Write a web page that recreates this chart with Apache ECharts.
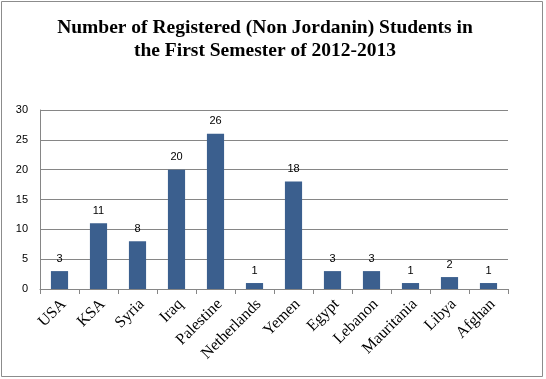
<!DOCTYPE html>
<html>
<head>
<meta charset="utf-8">
<script src="https://cdn.jsdelivr.net/npm/echarts@6/dist/echarts.min.js"></script>
<style>
html,body{margin:0;padding:0;background:#fff;}
#c{width:546px;height:379px;}
</style>
</head>
<body>
<div id="c"></div>
<script>
const categories = ['USA','KSA','Syria','Iraq','Palestine','Netherlands','Yemen','Egypt','Lebanon','Mauritania','Libya','Afghan'];
const students = [3, 11, 8, 20, 26, 1, 18, 3, 3, 1, 2, 1];
const yTicks = { min: 0, max: 30, interval: 5 };
const titleText = 'Number of Registered (Non Jordanin) Students in\nthe First Semester of 2012-2013';

const chart = echarts.init(document.getElementById('c'), null, { renderer: 'canvas' });
chart.setOption({
  backgroundColor: '#ffffff',
  animation: false,
  title: {
    text: titleText,
    left: 260,
    top: 11,
    textAlign: 'center',
    textStyle: {
      fontFamily: 'Liberation Serif',
      fontWeight: 'bold',
      fontSize: 19.5,
      lineHeight: 23,
      color: '#000'
    }
  },
  graphic: [{
    type: 'rect',
    shape: { x: 1.5, y: 1.5, width: 541, height: 375 },
    style: { fill: null, stroke: '#8c8c8c', lineWidth: 1 },
    silent: true
  }],
  grid: { left: 40, top: 110, right: 38, bottom: 90, containLabel: false },
  xAxis: {
    type: 'category',
    data: categories,
    axisLine: { show: true, lineStyle: { color: '#868686', width: 1 } },
    axisTick: { show: true, alignWithLabel: false, interval: 0, length: 5, lineStyle: { color: '#868686' } },
    axisLabel: {
      interval: 0,
      rotate: 45,
      margin: 17,
      padding: [0, -6, 0, 0],
      fontFamily: 'Liberation Serif',
      fontSize: 16,
      color: '#000'
    }
  },
  yAxis: {
    type: 'value',
    min: yTicks.min,
    max: yTicks.max,
    interval: yTicks.interval,
    axisLine: { show: true, lineStyle: { color: '#868686', width: 1 } },
    axisTick: { show: false },
    splitLine: { show: true, lineStyle: { color: '#868686', width: 1 } },
    axisLabel: {
      margin: 12,
      fontFamily: 'Liberation Sans',
      fontSize: 11,
      color: '#000'
    }
  },
  series: [{
    type: 'bar',
    data: students,
    barWidth: '44%',
    itemStyle: { color: '#3B5F8E' },
    label: {
      show: true,
      position: 'top',
      distance: 7,
      fontFamily: 'Liberation Sans',
      fontSize: 11,
      color: '#000'
    }
  }]
});
</script>
</body>
</html>
